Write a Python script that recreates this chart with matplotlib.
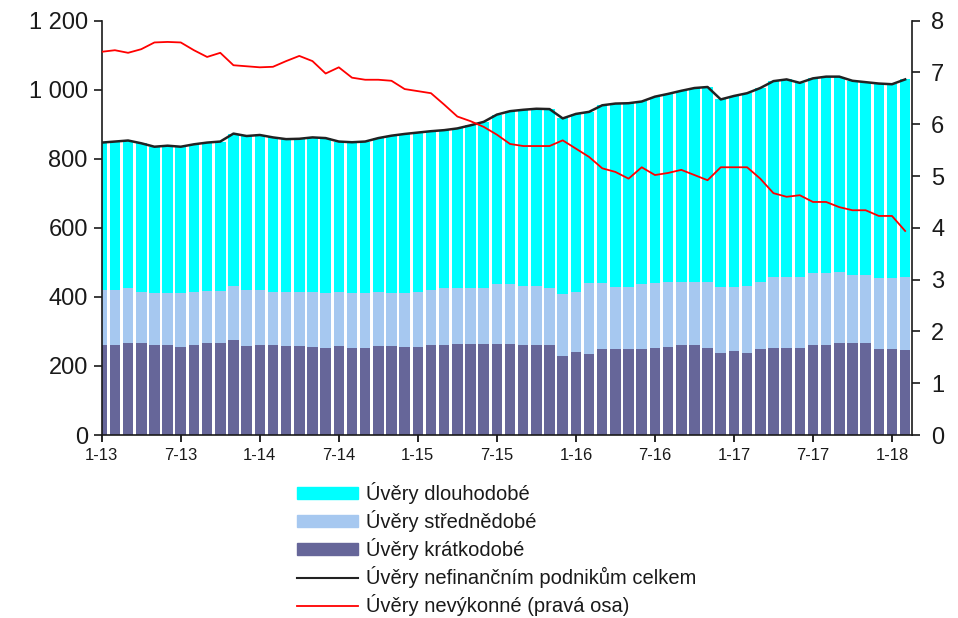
import matplotlib

matplotlib.use("Agg")
import matplotlib.pyplot as plt
from matplotlib.lines import Line2D
from matplotlib.patches import Patch
from matplotlib.ticker import FuncFormatter, MultipleLocator

plt.rcParams["font.family"] = ["Liberation Sans", "DejaVu Sans"]

# monthly data, 1-13 .. 2-18 (bn CZK, right axis in %)
tick_labels = ["1-13", "7-13", "1-14", "7-14", "1-15", "7-15",
               "1-16", "7-16", "1-17", "7-17", "1-18"]

short_term = [261, 261, 267, 267, 261, 261, 256, 261, 267, 267,
              275, 258, 261, 261, 258, 258, 256, 252, 258, 253,
              253, 258, 258, 256, 255, 261, 261, 265, 265, 265,
              265, 265, 261, 261, 261, 229, 241, 236, 248, 248,
              248, 248, 253, 256, 261, 261, 253, 237, 243, 237,
              248, 253, 253, 253, 261, 261, 267, 267, 267, 248,
              248, 246]
medium_term = [159, 159, 158, 148, 149, 149, 154, 154, 151, 151,
               157, 162, 159, 154, 155, 155, 157, 158, 157, 157,
               157, 157, 154, 154, 160, 159, 164, 160, 162, 162,
               172, 172, 171, 171, 166, 179, 174, 203, 191, 182,
               182, 189, 186, 188, 183, 183, 191, 191, 185, 195,
               196, 204, 204, 204, 207, 207, 206, 196, 196, 206,
               206, 211]
long_term = [427, 430, 428, 430, 425, 428, 425, 427, 429, 432,
             441, 446, 449, 447, 444, 445, 449, 450, 435, 438,
             440, 445, 455, 462, 461, 460, 458, 463, 470, 480,
             491, 501, 510, 513, 517, 509, 515, 497, 516, 530,
             531, 529, 541, 544, 553, 561, 564, 544, 554, 558,
             561, 568, 573, 563, 565, 570, 565, 563, 559, 564,
             562, 573]
npl_ratio = [7.40, 7.43, 7.38, 7.45, 7.58, 7.59, 7.58, 7.43, 7.30, 7.38,
             7.14, 7.12, 7.10, 7.11, 7.22, 7.32, 7.22, 6.98, 7.10, 6.90,
             6.86, 6.86, 6.84, 6.68, 6.64, 6.60, 6.38, 6.15, 6.06, 5.95,
             5.80, 5.62, 5.58, 5.58, 5.58, 5.69, 5.53, 5.37, 5.15, 5.08,
             4.95, 5.17, 5.02, 5.06, 5.12, 5.02, 4.92, 5.17, 5.17, 5.17,
             4.95, 4.67, 4.60, 4.63, 4.50, 4.50, 4.40, 4.34, 4.34, 4.23,
             4.23, 3.94]

CYAN = "#00ffff"
LIGHT_BLUE = "#a6c8f0"
DARK_BLUE = "#666699"
RED = "#ff0000"
INK = "#1a1a1a"

x = list(range(len(short_term)))
mid_bottom = short_term
long_bottom = [s + m for s, m in zip(short_term, medium_term)]
total = [s + m + l for s, m, l in zip(short_term, medium_term, long_term)]

fig = plt.figure(figsize=(9.58, 6.18), dpi=100)
ax = fig.add_axes([0.1062, 0.2961, 0.8455, 0.6704])

bar_w = 0.8
ax.bar(x, short_term, width=bar_w, color=DARK_BLUE, linewidth=0)
ax.bar(x, medium_term, width=bar_w, bottom=mid_bottom, color=LIGHT_BLUE, linewidth=0)
ax.bar(x, long_term, width=bar_w, bottom=long_bottom, color=CYAN, linewidth=0)
ax.plot(x, total, color="#222222", linewidth=1.8, zorder=5)

ax.set_xlim(0, 61.5)
ax.set_ylim(0, 1200)
ax.yaxis.set_major_locator(MultipleLocator(200))
ax.yaxis.set_major_formatter(
    FuncFormatter(lambda v, _: f"{int(v):,}".replace(",", " "))
)
ax.set_xticks(range(0, 61, 6))
ax.set_xticklabels(tick_labels, fontsize=12, color=INK)
ax.tick_params(axis="y", labelsize=17, colors=INK, length=6, width=1.2, pad=4)
ax.tick_params(axis="x", length=5, width=1.2, pad=4)
for spine in ("top", "right"):
    ax.spines[spine].set_visible(False)
for spine in ("left", "bottom"):
    ax.spines[spine].set_linewidth(1.2)
    ax.spines[spine].set_color(INK)

ax2 = ax.twinx()
ax2.plot(x, npl_ratio, color=RED, linewidth=1.3)
ax2.set_ylim(0, 8)
ax2.yaxis.set_major_locator(MultipleLocator(1))
ax2.tick_params(axis="y", labelsize=17, colors=INK, length=6, width=1.2, pad=8)
for spine in ("top", "left", "bottom"):
    ax2.spines[spine].set_visible(False)
ax2.spines["right"].set_linewidth(1.2)
ax2.spines["right"].set_color(INK)

handles = [
    Patch(color=CYAN),
    Patch(color=LIGHT_BLUE),
    Patch(color=DARK_BLUE),
    Line2D([], [], color="#222222", linewidth=1.5),
    Line2D([], [], color=RED, linewidth=1.3),
]
labels = [
    "Úvěry dlouhodobé",
    "Úvěry střednědobé",
    "Úvěry krátkodobé",
    "Úvěry nefinančním podnikům celkem",
    "Úvěry nevýkonné (pravá osa)",
]
fig.legend(
    handles,
    labels,
    loc="upper left",
    bbox_to_anchor=(0.30, 0.236),
    frameon=False,
    fontsize=14.5,
    handlelength=3.0,
    handleheight=0.5,
    handletextpad=0.4,
    labelspacing=0.3,
    borderpad=0,
    labelcolor=INK,
)

fig.savefig("out.png", dpi=100)
